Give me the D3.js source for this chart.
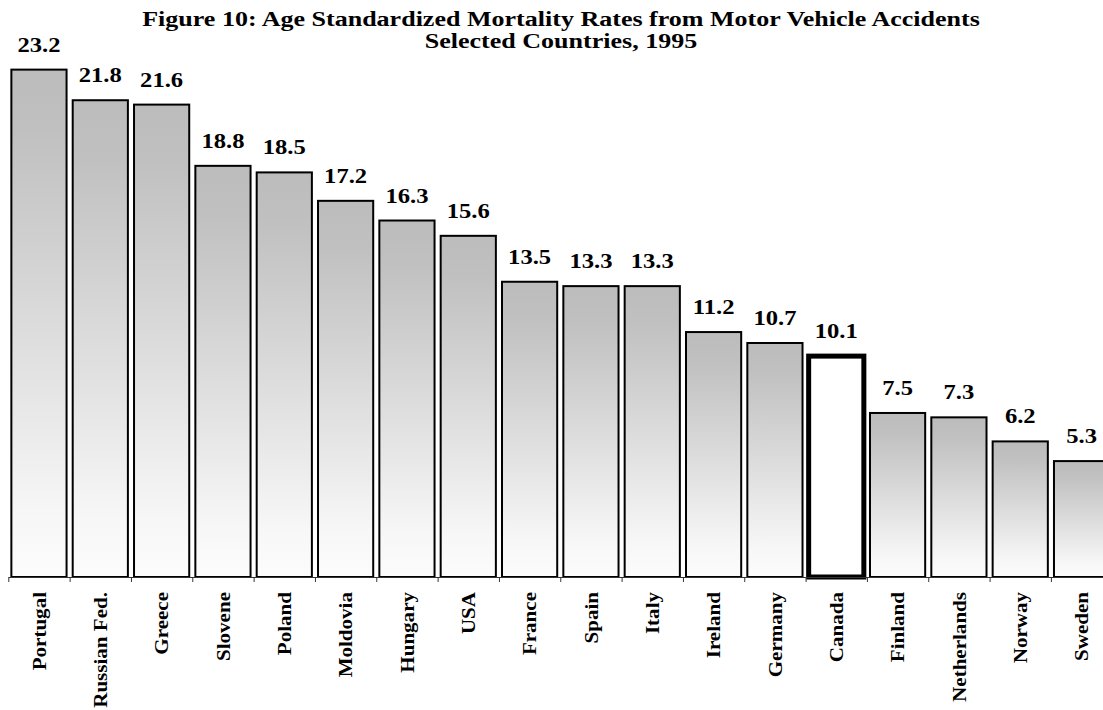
<!DOCTYPE html>
<html>
<head>
<meta charset="utf-8">
<script src="https://cdn.jsdelivr.net/npm/d3@7"></script>
<style>
  body { margin: 0; background: #fff; }
  text { font-family: "Liberation Serif", "Times New Roman", serif; font-weight: bold; fill: #000; }
</style>
</head>
<body>
<div class="chart"></div>
<script>
// Data
const countries = ['Portugal', 'Russian Fed.', 'Greece', 'Slovene', 'Poland', 'Moldovia', 'Hungary', 'USA',
    'France', 'Spain', 'Italy', 'Ireland', 'Germany', 'Canada', 'Finland', 'Netherlands', 'Norway', 'Sweden'];
const rates = [23.2, 21.8, 21.6, 18.8, 18.5, 17.2, 16.3, 15.6, 13.5, 13.3, 13.3, 11.2, 10.7, 10.1, 7.5, 7.3, 6.2, 5.3];
const highlight = 'Canada';
const titleLines = ['Figure 10: Age Standardized Mortality Rates from Motor Vehicle Accidents', 'Selected Countries, 1995'];

const data = countries.map((c, i) => ({ country: c, rate: rates[i] }));

// Chart dimensions
const width = 1103, height = 710;
const base = 577, left = 8.3, step = 61.33;
const stretch = 1.2; // text in the original is set a bit wide

const svg = d3.select('.chart').append('svg')
    .attr('width', width)
    .attr('height', height);

// Scales
const xScale = d3.scaleBand()
    .domain(countries)
    .range([left, left + step * countries.length])
    .paddingInner(0.1)
    .paddingOuter(0.05);
const xEdge = d3.scaleLinear().domain([0, countries.length]).range([left, left + step * countries.length]);
const yScale = d3.scaleLinear().domain([0, 25]).range([base, base - 25 * 21.87]);

// Gradient fill for bars
const grad = svg.append('defs').append('linearGradient')
    .attr('id', 'barFill')
    .attr('x1', 0).attr('y1', 0).attr('x2', 0).attr('y2', 1);
[[0, '#bcbcbc'], [0.12, '#c0c0c0'], [0.88, '#f7f7f7'], [1, '#fcfcfc']].forEach(s => {
    grad.append('stop').attr('offset', s[0]).attr('stop-color', s[1]);
});

// Title
svg.selectAll('.title')
    .data(titleLines)
    .join('text')
    .attr('class', 'title')
    .attr('text-anchor', 'middle')
    .attr('font-size', 21)
    .attr('transform', (d, i) => `translate(561,${26 + i * 22}) scale(1.24,1)`)
    .text(d => d);

// Bars
svg.selectAll('.bar')
    .data(data)
    .join('rect')
    .attr('class', 'bar')
    .attr('x', d => xScale(d.country))
    .attr('y', d => yScale(d.rate))
    .attr('width', xScale.bandwidth())
    .attr('height', d => base - yScale(d.rate))
    .attr('fill', d => d.country === highlight ? '#fff' : 'url(#barFill)')
    .attr('stroke', '#000')
    .attr('stroke-width', d => d.country === highlight ? 5 : 2);

// Value labels
svg.selectAll('.value')
    .data(data)
    .join('text')
    .attr('class', 'value')
    .attr('text-anchor', 'middle')
    .attr('font-size', 20.5)
    .attr('transform', d => `translate(${xScale(d.country) + xScale.bandwidth() / 2},${yScale(d.rate) - 18}) scale(${stretch},1)`)
    .text(d => d.rate.toFixed(1));

// X axis: boundary ticks
svg.append('g')
    .attr('transform', `translate(0,${base})`)
    .call(d3.axisBottom(xEdge).tickValues(d3.range(countries.length + 1)).tickFormat('').tickSize(5).tickSizeOuter(0))
    .call(g => g.select('.domain').attr('stroke', '#333'))
    .call(g => g.selectAll('.tick line').attr('stroke', '#333'));

// Category labels
svg.selectAll('.cat')
    .data(countries)
    .join('text')
    .attr('class', 'cat')
    .attr('text-anchor', 'end')
    .attr('dominant-baseline', 'central')
    .attr('font-size', 19.5)
    .attr('transform', d => `translate(${xScale(d) + xScale.bandwidth() / 2},592) rotate(-90) scale(1.08,1)`)
    .text(d => d);
</script>
</body>
</html>
